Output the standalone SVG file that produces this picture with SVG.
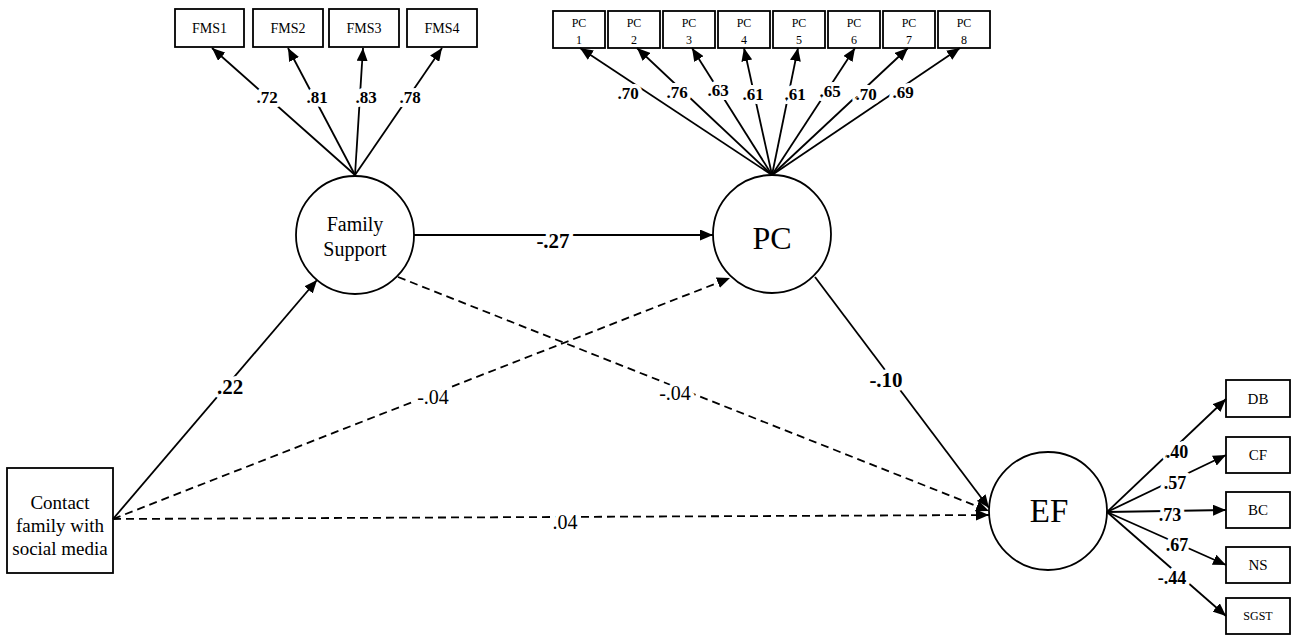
<svg xmlns="http://www.w3.org/2000/svg" width="1293" height="635" viewBox="0 0 1293 635" font-family="'Liberation Serif', 'DejaVu Serif', serif">
<defs>
<marker id="arr" markerUnits="userSpaceOnUse" markerWidth="14" markerHeight="11" refX="13" refY="5.5" orient="auto" viewBox="0 0 14 11">
<path d="M0,0 L13,5.5 L0,11 z" fill="#000"/>
</marker>
<style>
.node rect, .node circle { fill:#fff; stroke:#000; stroke-width:1.8 }
.t { font-family:'Liberation Serif', 'DejaVu Serif', serif; fill:#000; text-anchor:middle }
.ln { stroke:#000; stroke-width:1.8; fill:none; marker-end:url(#arr) }
.dash { stroke-dasharray:8 5 }
.lbl { font-family:'Liberation Serif', 'DejaVu Serif', serif; text-anchor:middle; fill:#000; paint-order:stroke; stroke:#fff; stroke-width:8px; stroke-linejoin:round }
.b { font-weight:bold }
.s17 { font-size:17px }
.s18 { font-size:18px }
.s20 { font-size:20px }
.s21 { font-size:21px }
</style>
</defs>
<rect width="1293" height="635" fill="#fff"/>

<g id="nodes">
<g id="FMS1" class="node"><rect x="175" y="9" width="69" height="38"/><text class="t" x="209.5" y="33" font-size="14">FMS1</text></g>
<g id="FMS2" class="node"><rect x="253" y="9" width="70" height="38"/><text class="t" x="288" y="33" font-size="14">FMS2</text></g>
<g id="FMS3" class="node"><rect x="329" y="9" width="70" height="38"/><text class="t" x="364" y="33" font-size="14">FMS3</text></g>
<g id="FMS4" class="node"><rect x="407" y="9" width="70" height="38"/><text class="t" x="442" y="33" font-size="14">FMS4</text></g>

<g id="PC1" class="node"><rect x="553" y="11" width="52" height="37"/><text class="t" x="579" y="27" font-size="12">PC</text><text class="t" x="579" y="44" font-size="12">1</text></g>
<g id="PC2" class="node"><rect x="608" y="11" width="52" height="37"/><text class="t" x="634" y="27" font-size="12">PC</text><text class="t" x="634" y="44" font-size="12">2</text></g>
<g id="PC3" class="node"><rect x="663" y="11" width="52" height="37"/><text class="t" x="689" y="27" font-size="12">PC</text><text class="t" x="689" y="44" font-size="12">3</text></g>
<g id="PC4" class="node"><rect x="718" y="11" width="52" height="37"/><text class="t" x="744" y="27" font-size="12">PC</text><text class="t" x="744" y="44" font-size="12">4</text></g>
<g id="PC5" class="node"><rect x="773" y="11" width="52" height="37"/><text class="t" x="799" y="27" font-size="12">PC</text><text class="t" x="799" y="44" font-size="12">5</text></g>
<g id="PC6" class="node"><rect x="828" y="11" width="52" height="37"/><text class="t" x="854" y="27" font-size="12">PC</text><text class="t" x="854" y="44" font-size="12">6</text></g>
<g id="PC7" class="node"><rect x="883" y="11" width="52" height="37"/><text class="t" x="909" y="27" font-size="12">PC</text><text class="t" x="909" y="44" font-size="12">7</text></g>
<g id="PC8" class="node"><rect x="938" y="11" width="52" height="37"/><text class="t" x="964" y="27" font-size="12">PC</text><text class="t" x="964" y="44" font-size="12">8</text></g>

<g id="FamilySupport" class="node"><circle cx="355" cy="235" r="59"/><text class="t" x="355" y="231" font-size="20">Family</text><text class="t" x="355" y="256" font-size="20">Support</text></g>
<g id="PC" class="node"><circle cx="772" cy="234" r="59"/><text class="t" x="772" y="249" font-size="32">PC</text></g>
<g id="EF" class="node"><circle cx="1048" cy="511" r="59"/><text class="t" x="1049" y="522" font-size="33">EF</text></g>

<g id="Contact" class="node"><rect x="7" y="468" width="106" height="105"/><text class="t" x="60" y="509" font-size="19">Contact</text><text class="t" x="60" y="532" font-size="19">family with</text><text class="t" x="60" y="555" font-size="19">social media</text></g>

<g id="DB" class="node"><rect x="1226" y="380" width="64" height="37"/><text class="t" x="1258" y="404" font-size="15">DB</text></g>
<g id="CF" class="node"><rect x="1226" y="437" width="64" height="36"/><text class="t" x="1258" y="460" font-size="15">CF</text></g>
<g id="BC" class="node"><rect x="1226" y="492" width="64" height="36"/><text class="t" x="1258" y="515" font-size="15">BC</text></g>
<g id="NS" class="node"><rect x="1226" y="547" width="64" height="36"/><text class="t" x="1258" y="570" font-size="15">NS</text></g>
<g id="SGST" class="node"><rect x="1226" y="598" width="64" height="36"/><text class="t" x="1258" y="620" font-size="12">SGST</text></g>
</g>

<g id="connectors">
<path class="ln" d="M355,175 L212,48"/>
<path class="ln" d="M355,175 L288,48"/>
<path class="ln" d="M355,175 L363,48"/>
<path class="ln" d="M355,175 L442,48"/>

<path class="ln" d="M772,175 L580,48"/>
<path class="ln" d="M772,175 L637,48"/>
<path class="ln" d="M772,175 L692,48"/>
<path class="ln" d="M772,175 L744,48"/>
<path class="ln" d="M772,175 L798,48"/>
<path class="ln" d="M772,175 L855,48"/>
<path class="ln" d="M772,175 L908,48"/>
<path class="ln" d="M772,175 L960,48"/>

<path class="ln" d="M1107,512 L1226,399"/>
<path class="ln" d="M1107,512 L1226,455"/>
<path class="ln" d="M1107,512 L1226,510"/>
<path class="ln" d="M1107,512 L1226,565"/>
<path class="ln" d="M1107,512 L1226,616"/>

<path class="ln" d="M113,519 L317,280"/>
<path class="ln" d="M414,235 L713,235"/>
<path class="ln dash" d="M113,519 L730,278"/>
<path class="ln dash" d="M398,277 L989,511"/>
<path class="ln dash" d="M113,519 L989,515"/>
<path class="ln" d="M815,277 L989,508"/>
</g>

<g id="labels">
<text class="lbl b s17" x="267" y="103">.72</text>
<text class="lbl b s17" x="317" y="103">.81</text>
<text class="lbl b s17" x="366" y="103">.83</text>
<text class="lbl b s17" x="410" y="103">.78</text>

<text class="lbl b s17" x="628" y="99">.70</text>
<text class="lbl b s17" x="677" y="98">.76</text>
<text class="lbl b s17" x="718" y="96">.63</text>
<text class="lbl b s17" x="753" y="100">.61</text>
<text class="lbl b s17" x="795" y="100">.61</text>
<text class="lbl b s17" x="830" y="97">.65</text>
<text class="lbl b s17" x="866" y="100">.70</text>
<text class="lbl b s17" x="903" y="98">.69</text>

<text class="lbl b s18" x="1177" y="458">.40</text>
<text class="lbl b s18" x="1175" y="489">.57</text>
<text class="lbl b s18" x="1170" y="521">.73</text>
<text class="lbl b s18" x="1177" y="551">.67</text>
<text class="lbl b s18" x="1172" y="584">-.44</text>

<text class="lbl b s21" x="230" y="394">.22</text>
<text class="lbl b s21" x="553" y="248">-.27</text>
<text class="lbl b s21" x="886" y="387">-.10</text>
<text class="lbl s20" x="433" y="404">-.04</text>
<text class="lbl s20" x="675" y="400">-.04</text>
<text class="lbl s20" x="565" y="529">.04</text>
</g>
</svg>
